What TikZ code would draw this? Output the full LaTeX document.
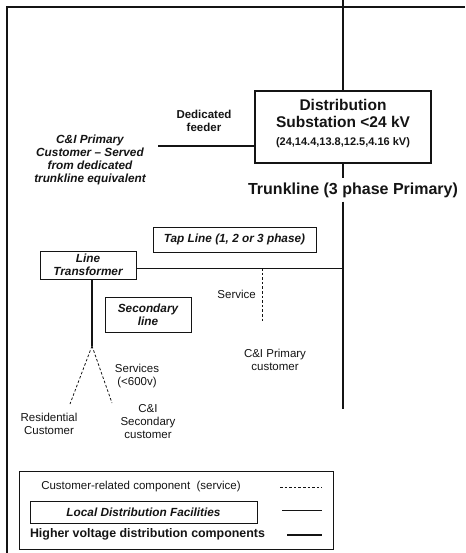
\documentclass[tikz,border=0pt]{standalone}
\usepackage{xcolor,tikz,fontspec}
\setmainfont{Liberation Sans}
\usetikzlibrary{positioning,calc}
\definecolor{ink}{RGB}{20,20,20}
\newcommand{\fs}[2]{\fontsize{#1}{#2}\selectfont}
\tikzset{
  hv/.style={draw=ink,line width=2.6pt},
  loc/.style={draw=ink,line width=0.9pt},
  svc/.style={draw=ink,line width=0.8pt,dash pattern=on 2.6pt off 2pt},
  frame/.style={draw=ink,line width=1.2pt},
  facbox/.style={draw=ink,line width=1pt,inner sep=0pt,align=center,text=ink,font=\bfseries\itshape\fs{11.8}{12.8}},
  hvbox/.style={draw=ink,line width=2.6pt,inner sep=0pt,minimum width=176pt,minimum height=72pt},
  lab/.style={font=\fs{11.5}{13},text=ink,align=center,inner sep=1pt},
  blab/.style={font=\bfseries\fs{11.5}{13},text=ink,align=center,inner sep=1pt},
  ilab/.style={font=\bfseries\itshape\fs{11.8}{12.8},text=ink,align=center,inner sep=1pt}
}
\begin{document}
\begin{tikzpicture}[x=1pt,y=-1pt]
  \useasboundingbox (0,0) rectangle (465,553);
  % frame
  \coordinate (fbl) at (7,553);
  \coordinate (ftr) at (465,7);
  \draw[frame] (fbl) |- (ftr);
  % substation and trunkline
  \node[hvbox] (sub) at (343,127) {};
  \node[blab,font=\bfseries\fs{15.5}{17}] (subt) at (343,113) {Distribution\\Substation <24 kV};
  \node[blab,font=\bfseries\fs{11}{13}] (subv) at (343,143) {(24,14.4,13.8,12.5,4.16 kV)};
  \coordinate (ttop) at (343,0);
  \coordinate (tbot) at (343,409);
  \node[blab,font=\bfseries\fs{16}{18},inner sep=4pt] (trk) at (353,190) {Trunkline (3 phase Primary)};
  \draw[hv] (ttop) -- (sub.north);
  \draw[hv] (sub.south) -- (sub.south |- trk.north);
  \draw[hv] (trk.south -| sub) -- (tbot);
  % dedicated feeder
  \coordinate (fdend) at (158,146);
  \draw[hv,line width=1.8pt] (fdend) -- (sub.west |- fdend);
  \node[blab] (fdl) at (204,121) {Dedicated\\feeder};
  \node[ilab] (cip) at (90,160) {C\&I Primary\\Customer -- Served\\from dedicated\\trunkline equivalent};
  % tap line
  \node[facbox,minimum width=163pt,minimum height=25pt] (tap) at (234.5,239.5) {Tap Line (1, 2 or 3 phase)};
  \node[facbox,minimum width=96pt,minimum height=28pt] (ltx) at (88,265) {Line\\Transformer};
  \coordinate (tapj) at (343,268);
  \draw[loc] ([yshift=-3pt]ltx.east) -- (tapj);
  \coordinate (svtop) at (262,268);
  \coordinate (svbot) at (262,321);
  \draw[svc] (svtop) -- (svbot);
  \node[lab,anchor=east] (svl) at (257,294) {Service};
  \node[lab] (cipc) at (275,359.5) {C\&I Primary\\customer};
  % secondary side
  \node[facbox,minimum width=86pt,minimum height=35pt] (sec) at (148,314.5) {Secondary\\line};
  \coordinate (spl) at (92,346);
  \coordinate (resend) at (70,404);
  \coordinate (cisend) at (112,403);
  \draw[loc,line width=1.1pt] (ltx.south -| spl) -- (spl);
  \draw[svc] (spl) -- (resend);
  \draw[svc] (spl) -- (cisend);
  \node[lab] (svs) at (137,376.5) {Services\\(<600v)};
  \node[lab] (res) at (49,423.5) {Residential\\Customer};
  \node[lab] (cis) at (148,422) {C\&I\\Secondary\\customer};
  % legend
  \node[draw=ink,line width=1pt,minimum width=314pt,minimum height=78pt] (leg) at (176,510) {};
  \node[lab] (legsvc) at (141,487) {Customer-related component~~(service)};
  \node[facbox,minimum width=227pt,minimum height=22pt] (legfac) at (143.5,512) {Local Distribution Facilities};
  \node[blab,font=\bfseries\fs{12.4}{14}] (leghv) at (147.5,534) {Higher voltage distribution components};
  \coordinate (s1a) at (280,487); \coordinate (s1b) at (322,487);
  \coordinate (s2a) at (282,510); \coordinate (s2b) at (322,510);
  \coordinate (s3a) at (287,535); \coordinate (s3b) at (322,535);
  \draw[svc] (s1a) -- (s1b);
  \draw[loc] (s2a) -- (s2b);
  \draw[hv] (s3a) -- (s3b);
\end{tikzpicture}
\end{document}
